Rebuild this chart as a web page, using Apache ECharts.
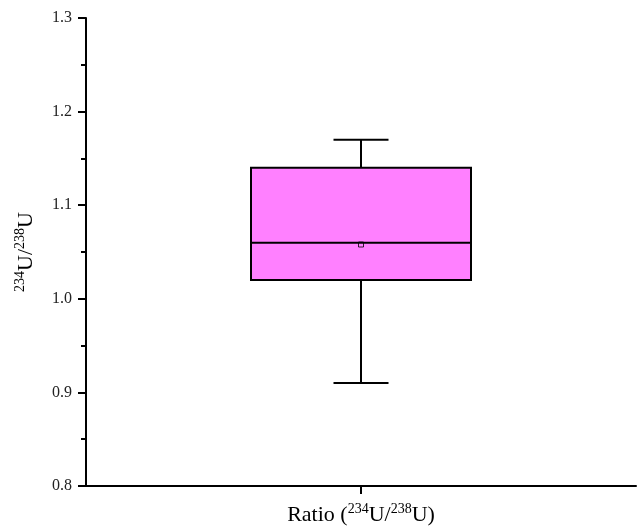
<!DOCTYPE html>
<html>
<head>
<meta charset="utf-8">
<script src="https://cdn.jsdelivr.net/npm/echarts@6/dist/echarts.min.js"></script>
<style>
  html, body { margin: 0; padding: 0; background: #fff; }
  #chart { width: 638px; height: 528px; }
</style>
</head>
<body>
<div id="chart"></div>
<script>
// box statistics
var categories = ['Ratio'];
var whiskerLow = [0.91];
var q1 = [1.02];
var median = [1.06];
var q3 = [1.14];
var whiskerHigh = [1.17];
var mean = [1.058];

var yMin = 0.8, yMax = 1.3, yStep = 0.1;

var serif = '"Liberation Serif", "DejaVu Serif", serif';

var boxData = categories.map(function (c, i) {
    return [i, whiskerLow[i], q1[i], median[i], q3[i], whiskerHigh[i]];
});
var meanData = categories.map(function (c, i) {
    return [i, mean[i]];
});

// rich styles for the 234U/238U labels
var nameRich = {
    n: { fontFamily: serif, fontSize: 22, color: '#000', verticalAlign: 'bottom', lineHeight: 24 },
    s: { fontFamily: serif, fontSize: 14, color: '#000', verticalAlign: 'top', lineHeight: 24 }
};

function renderBox(params, api) {
    var x = api.value(0);
    var band = api.size([1, 0])[0];
    var half = band * 0.2;
    var cap = band * 0.05;
    var pLow = api.coord([x, api.value(1)]);
    var pQ1 = api.coord([x, api.value(2)]);
    var pMed = api.coord([x, api.value(3)]);
    var pQ3 = api.coord([x, api.value(4)]);
    var pHigh = api.coord([x, api.value(5)]);
    var cx = pMed[0];
    var line = { stroke: '#000', lineWidth: 2 };
    return {
        type: 'group',
        children: [
            { type: 'line', shape: { x1: cx, y1: pQ3[1], x2: cx, y2: pHigh[1] }, style: line },
            { type: 'line', shape: { x1: cx, y1: pQ1[1], x2: cx, y2: pLow[1] }, style: line },
            { type: 'line', shape: { x1: cx - cap, y1: pHigh[1], x2: cx + cap, y2: pHigh[1] }, style: line },
            { type: 'line', shape: { x1: cx - cap, y1: pLow[1], x2: cx + cap, y2: pLow[1] }, style: line },
            {
                type: 'rect',
                shape: { x: cx - half, y: pQ3[1], width: half * 2, height: pQ1[1] - pQ3[1] },
                style: { fill: '#FF80FF', stroke: '#000', lineWidth: 2 }
            },
            { type: 'line', shape: { x1: cx - half, y1: pMed[1], x2: cx + half, y2: pMed[1] }, style: line }
        ]
    };
}

var chart = echarts.init(document.getElementById('chart'));
var option = {
    backgroundColor: '#fff',
    animation: false,
    grid: { left: 86, right: 2, top: 18, bottom: 42, containLabel: false, outerBoundsMode: 'none' },
    xAxis: {
        type: 'category',
        data: categories,
        boundaryGap: true,
        name: '{n|Ratio (}{s|234}{n|U/}{s|238}{n|U)}',
        nameLocation: 'middle',
        nameGap: 16,
        nameTextStyle: { rich: nameRich },
        axisLine: { lineStyle: { color: '#000', width: 2 } },
        axisTick: { show: true, alignWithLabel: true, length: 8, lineStyle: { color: '#000', width: 2 } },
        axisLabel: { show: false },
        splitLine: { show: false }
    },
    yAxis: {
        type: 'value',
        min: yMin,
        max: yMax,
        interval: yStep,
        name: '{s|234}{n|U/}{s|238}{n|U}',
        nameLocation: 'middle',
        nameRotate: 90,
        nameGap: 49,
        nameTextStyle: { rich: nameRich },
        axisLine: { show: true, lineStyle: { color: '#000', width: 2 } },
        axisTick: { show: true, inside: false, length: 8, lineStyle: { color: '#000', width: 2 } },
        minorTick: { show: true, splitNumber: 2, length: 5, lineStyle: { color: '#000', width: 2 } },
        axisLabel: {
            fontFamily: serif,
            fontSize: 16,
            color: '#222',
            margin: 14,
            formatter: function (v) { return v.toFixed(1); }
        },
        splitLine: { show: false }
    },
    series: [
        {
            type: 'custom',
            renderItem: renderBox,
            encode: { x: 0, y: [1, 2, 3, 4, 5] },
            data: boxData,
            z: 2
        },
        {
            type: 'scatter',
            data: meanData,
            symbol: 'rect',
            symbolSize: 5,
            itemStyle: { color: 'rgba(0,0,0,0)', borderColor: '#000', borderWidth: 1 },
            z: 3
        }
    ]
};
chart.setOption(option);
</script>
</body>
</html>
